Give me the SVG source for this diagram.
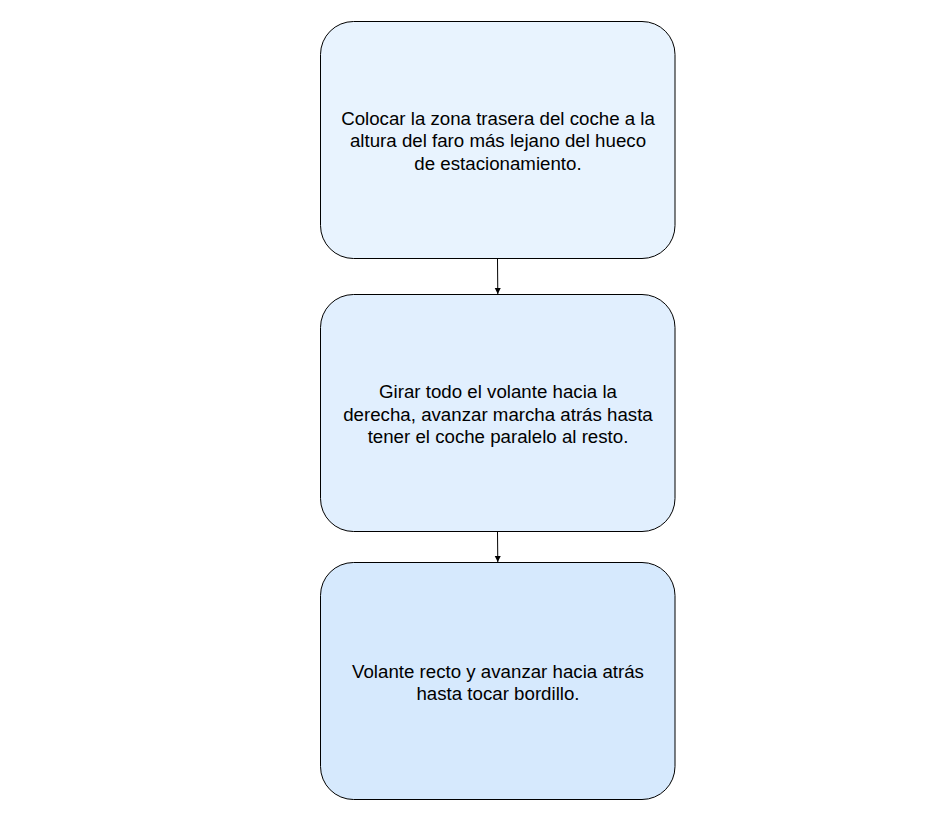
<svg xmlns="http://www.w3.org/2000/svg" width="948" height="823" viewBox="0 0 948 823">
<style>
.box{stroke:#000;stroke-width:1;}
.t{font-family:"Liberation Sans",Arial,sans-serif;font-size:18.7px;fill:#000;text-anchor:middle;}
.c{stroke:#000;stroke-width:1;fill:none;}
</style>
<defs>
<marker id="ah" markerWidth="8" markerHeight="8" refX="6" refY="3" orient="auto" markerUnits="userSpaceOnUse">
<path d="M0,0 L6,3 L0,6 Z" fill="#000"/>
</marker>
</defs>
<rect width="948" height="823" fill="#fff"/>
<g id="connectors">
<line class="c" x1="497.5" y1="259" x2="497.8" y2="294" marker-end="url(#ah)"/>
<line class="c" x1="497.5" y1="532" x2="497.8" y2="562" marker-end="url(#ah)"/>
</g>
<g id="node1">
<rect class="box" x="320.5" y="21.5" width="354.5" height="237" rx="33" fill="#e8f3fe"/>
<text class="t" x="498" y="124.5">Colocar la zona trasera del coche a la</text>
<text class="t" x="498" y="147">altura del faro más lejano del hueco</text>
<text class="t" x="498" y="169.5">de estacionamiento.</text>
</g>
<g id="node2">
<rect class="box" x="320.5" y="294.5" width="354.5" height="237" rx="33" fill="#e1effe"/>
<text class="t" x="498" y="398">Girar todo el volante hacia la</text>
<text class="t" x="498" y="420.5">derecha, avanzar marcha atrás hasta</text>
<text class="t" x="498" y="443">tener el coche paralelo al resto.</text>
</g>
<g id="node3">
<rect class="box" x="320.5" y="562.5" width="354.5" height="237" rx="33" fill="#d6e9fd"/>
<text class="t" x="498" y="677.5">Volante recto y avanzar hacia atrás</text>
<text class="t" x="498" y="700">hasta tocar bordillo.</text>
</g>
</svg>
